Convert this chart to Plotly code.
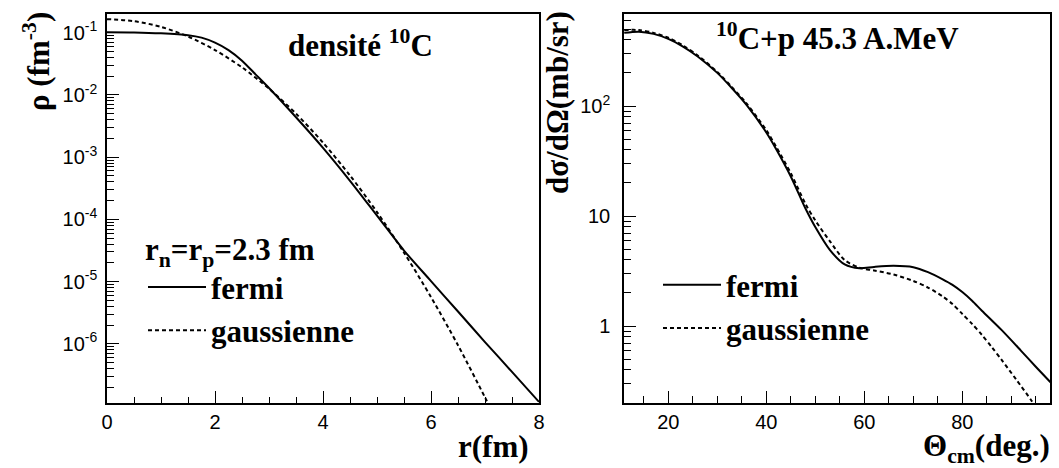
import plotly.graph_objects as go

# ---------------- data ----------------
r_fermi = [0.0, 0.5, 1.0, 1.5, 1.75, 2.0, 2.25, 2.5, 2.75, 3.0, 3.5, 4.0, 4.5, 5.0, 5.5, 6.0, 6.5, 7.0, 7.5, 8.0]
rho_fermi = [0.102, 0.101, 0.0977, 0.0912, 0.0832, 0.0692, 0.0525, 0.0355, 0.0214, 0.0129, 4.37e-3, 1.41e-3,
             4.17e-4, 1.15e-4, 3.16e-5, 1.02e-5, 3.31e-6, 1.07e-6, 3.55e-7, 1.17e-7]

r_gauss = [0.0, 0.5, 1.0, 1.5, 2.0, 2.5, 3.0, 3.5, 4.0, 4.5, 5.0, 5.5, 6.0, 6.5, 7.0, 7.2]
rho_gauss = [0.165, 0.153, 0.124, 0.0867, 0.0526, 0.0277, 0.0126, 4.99e-3, 1.71e-3, 5.08e-4, 1.31e-4,
             2.92e-5, 5.66e-6, 9.51e-7, 1.38e-7, 6.15e-8]

theta_fermi = [11, 14, 17, 20, 23, 26, 30, 33, 36, 40, 42, 45, 48, 50, 53, 56, 59, 62, 66, 70, 73, 76, 78, 80,
               82, 84, 88, 92, 95, 98]
xs_fermi = [462, 473, 452, 407, 347, 282, 200, 145, 102, 57.5, 40.7, 22.9, 11.7, 7.94, 4.90, 3.63, 3.35, 3.45,
            3.53, 3.43, 3.09, 2.66, 2.37, 2.04, 1.70, 1.38, 0.923, 0.596, 0.427, 0.309]

theta_gauss = [11, 14, 17, 20, 23, 26, 30, 33, 36, 40, 42, 45, 48, 50, 53, 56, 59, 62, 66, 70, 73, 76, 78, 80,
               82, 84, 86, 88, 91, 94, 95]
xs_gauss = [490, 490, 462, 417, 355, 288, 204, 148, 105, 60.3, 42.7, 24.5, 12.9, 9.12, 5.89, 3.98, 3.39, 3.20,
            2.94, 2.57, 2.24, 1.86, 1.585, 1.29, 1.047, 0.832, 0.646, 0.495, 0.327, 0.214, 0.184]

rho_ticks = [1e-6, 1e-5, 1e-4, 1e-3, 1e-2, 1e-1]
rho_ticktext = ["10<sup>-6</sup>", "10<sup>-5</sup>", "10<sup>-4</sup>", "10<sup>-3</sup>", "10<sup>-2</sup>",
                "10<sup>-1</sup>"]
xs_ticks = [1, 10, 100]
xs_ticktext = ["1", "10", "10<sup>2</sup>"]

# ---------------- figure ----------------
SERIF = "Liberation Serif"
SANS = "Liberation Sans"
W, H = 1059, 468

def px(x):
    return x / W

def py(y):
    return 1 - y / H

fig = go.Figure()

fig.add_trace(go.Scatter(x=r_fermi, y=rho_fermi, mode="lines", name="<b>fermi</b>",
                         line=dict(color="black", width=2, shape="spline", smoothing=0.8),
                         xaxis="x", yaxis="y", legend="legend", legendgroup="a"))
fig.add_trace(go.Scatter(x=r_gauss, y=rho_gauss, mode="lines", name="<b>gaussienne</b>",
                         line=dict(color="black", width=2, dash="4px,3px", shape="spline", smoothing=0.8),
                         xaxis="x", yaxis="y", legend="legend", legendgroup="b"))
fig.add_trace(go.Scatter(x=theta_fermi, y=xs_fermi, mode="lines", name="<b>fermi</b>",
                         line=dict(color="black", width=2, shape="spline", smoothing=0.8),
                         xaxis="x2", yaxis="y2", legend="legend2", legendgroup="c"))
fig.add_trace(go.Scatter(x=theta_gauss, y=xs_gauss, mode="lines", name="<b>gaussienne</b>",
                         line=dict(color="black", width=2, dash="4px,3px", shape="spline", smoothing=0.8),
                         xaxis="x2", yaxis="y2", legend="legend2", legendgroup="d"))

minor_left = [k * 10.0 ** e for e in range(-8, 0) for k in range(2, 10)]
minor_right = [k * 10.0 ** e for e in range(-1, 3) for k in range(2, 10)]

common_axis = dict(showline=True, linecolor="black", linewidth=1.5, mirror=True, showgrid=False,
                   zeroline=False, ticks="inside", tickcolor="black", tickwidth=1, ticklen=12,
                   tickfont=dict(family=SANS, size=20, color="black"), automargin=False)

ydom = [py(403), py(14)]
TXT = 31

fig.update_layout(
    width=W, height=H,
    margin=dict(l=0, r=0, t=0, b=0),
    paper_bgcolor="white", plot_bgcolor="white",
    xaxis=dict(domain=[px(107), px(539)], range=[0, 8], anchor="y",
               tickvals=[0, 2, 4, 6, 8],
               minor=dict(dtick=0.5, ticks="inside", ticklen=6, tickcolor="black", tickwidth=1),
               **common_axis),
    yaxis=dict(domain=ydom, type="log", range=[-6.95, -0.70], anchor="x",
               tickvals=rho_ticks, ticktext=rho_ticktext, ticklabelstandoff=4,
               minor=dict(tickmode="array", tickvals=minor_left, ticks="inside", ticklen=7,
                          tickcolor="black", tickwidth=1),
               **common_axis),
    xaxis2=dict(domain=[px(624), px(1050)], range=[10.96, 97.9], anchor="y2",
                tickvals=[20, 40, 60, 80],
                minor=dict(dtick=5, ticks="inside", ticklen=7, tickcolor="black", tickwidth=1),
                **common_axis),
    yaxis2=dict(domain=ydom, type="log", range=[-0.699, 2.836], anchor="x2",
                tickvals=xs_ticks, ticktext=xs_ticktext, ticklabelstandoff=8,
                minor=dict(tickmode="array", tickvals=minor_right, ticks="inside", ticklen=7,
                          tickcolor="black", tickwidth=1),
                **common_axis),
    legend=dict(x=px(143), y=py(220), xanchor="left", yanchor="top", bgcolor="rgba(0,0,0,0)",
                font=dict(family=SERIF, size=TXT, color="black"),
                title=dict(text="<b>r<sub>n</sub>=r<sub>p</sub>=2.3 fm</b>",
                           font=dict(family=SERIF, size=TXT, color="black"), side="top"),
                traceorder="grouped", tracegroupgap=0, itemwidth=58),
    legend2=dict(x=px(658), y=py(258), xanchor="left", yanchor="top", bgcolor="rgba(0,0,0,0)",
                 font=dict(family=SERIF, size=TXT, color="black"),
                 traceorder="grouped", tracegroupgap=0, itemwidth=58),
    showlegend=True,
)

ann_font = dict(family=SERIF, size=TXT, color="black")

def note(text, x, y, xa="center", ya="middle", angle=0):
    fig.add_annotation(text=text, x=px(x), y=py(y), xref="paper", yref="paper",
                       xanchor=xa, yanchor=ya, textangle=angle, showarrow=False, font=ann_font)

note("<b>densité <sup>10</sup>C</b>", 360, 43)
note("<b><sup>10</sup>C+p 45.3 A.MeV</b>", 837, 37)
note("<b>r(fm)</b>", 531, 446, xa="right")
note("<b>Θ<sub>cm</sub>(deg.)</b>", 1052, 448, xa="right")
note("<b>ρ (fm<sup>-3</sup>)</b>", 37, 62, angle=-90)
note("<b>dσ/dΩ(mb/sr)</b>", 557, 103, angle=-90)

fig.write_html("out.html")
